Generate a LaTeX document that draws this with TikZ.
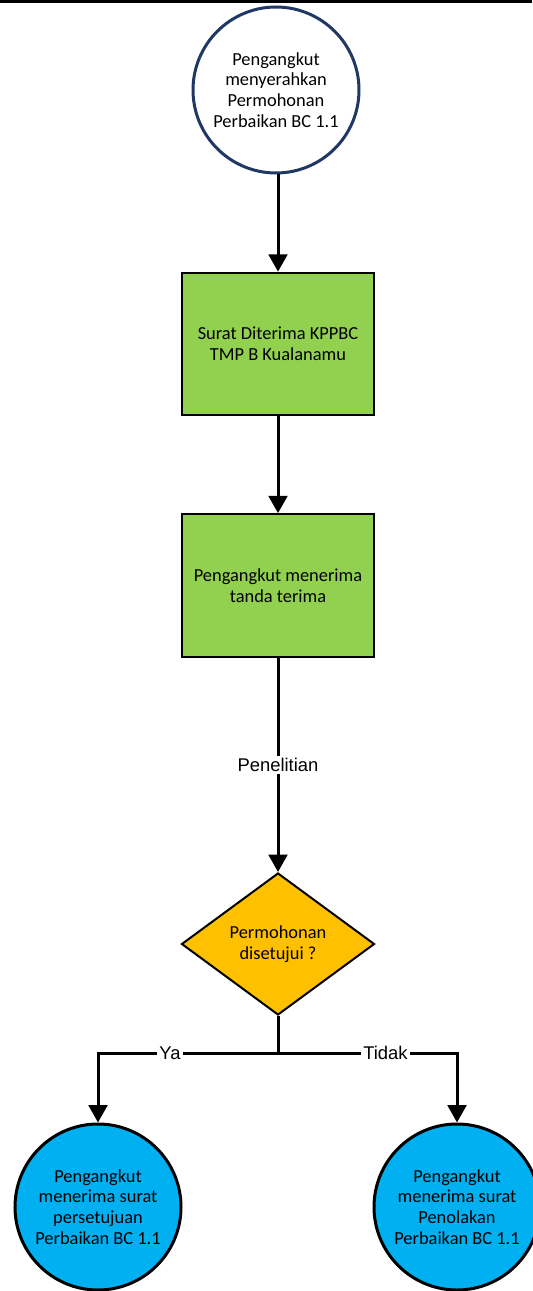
\documentclass[tikz,border=0pt]{standalone}
\usepackage{fontspec}
\setmainfont{Carlito}
\newfontfamily\labelfont{Liberation Sans}
\usetikzlibrary{shapes.geometric,arrows.meta}

\definecolor{navyline}{RGB}{32,56,100}
\definecolor{stepgreen}{RGB}{146,208,80}
\definecolor{decisionorange}{RGB}{255,192,0}
\definecolor{endblue}{RGB}{0,176,240}

\tikzset{every picture/.style={line width=0.75pt}}
\tikzset{
  boxtext/.style={align=center,font=\fontsize{13.8}{15.5}\selectfont},
  startcircle/.style={circle,draw=navyline,line width=2.25pt,fill=white,minimum size=124.5pt,inner sep=0pt,boxtext},
  stepbox/.style={rectangle,draw=black,line width=1.5pt,fill=stepgreen,minimum width=144pt,minimum height=107pt,boxtext},
  decision/.style={diamond,draw=black,line width=1.5pt,fill=decisionorange,minimum width=144.75pt,minimum height=106.5pt,inner sep=0pt,boxtext},
  endcircle/.style={circle,draw=black,line width=2.25pt,fill=endblue,minimum size=124.5pt,inner sep=0pt,boxtext},
  flow/.style={line width=2.25pt,-{Triangle[length=13pt,width=14pt]}},
  flowlabel/.style={fill=white,inner sep=1.5pt,font=\labelfont\fontsize{13.8}{15}\selectfont}
}

\begin{document}
\begin{tikzpicture}[x=0.75pt,y=0.75pt,yscale=-1,xscale=1]
\useasboundingbox (0,0) rectangle (532,1291);

%Top rule
\draw [line width=2.25pt] (0,2) -- (532,2) ;

%Start
\node [startcircle] (start) at (276,90) {Pengangkut\\menyerahkan\\Permohonan\\Perbaikan BC 1.1};
%Steps
\node [stepbox] (received) at (278,344) {Surat Diterima KPPBC\\TMP B Kualanamu};
\node [stepbox] (receipt) at (278,585.5) {Pengangkut menerima\\tanda terima};
%Decision
\node [decision] (approved) at (278,944) {Permohonan\\disetujui ?};
%Outcomes
\node [endcircle] (yes) at (98,1207) {Pengangkut\\menerima surat\\persetujuan\\Perbaikan BC 1.1};
\node [endcircle] (no) at (457,1207) {Pengangkut\\menerima surat\\Penolakan\\Perbaikan BC 1.1};

%Connectors
\draw [flow] (start.south -| received.north) -- (received.north) ;
\draw [flow] (received) -- (receipt) ;
\draw [flow] (receipt) -- node [flowlabel] {Penelitian} (approved) ;
\draw [line width=2.25pt] (approved.south) -- ++(0,37) coordinate (split) ;
\draw [flow] (split) -| node [flowlabel,pos=0.3] {Ya} (yes.north) ;
\draw [flow] (split) -| node [flowlabel,pos=0.3] {Tidak} (no.north) ;

\end{tikzpicture}
\end{document}
